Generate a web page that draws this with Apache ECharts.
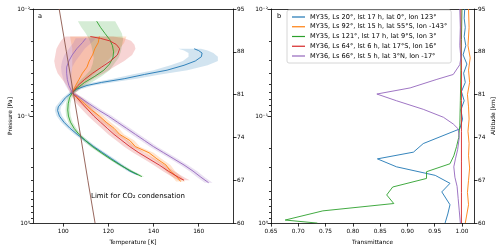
<!DOCTYPE html>
<html>
<head>
<meta charset="utf-8">
<script src="https://cdn.jsdelivr.net/npm/echarts@6/dist/echarts.min.js"></script>
<style>
  html, body { margin: 0; padding: 0; background: #fff; }
  #chart { width: 500px; height: 250px; }
</style>
</head>
<body>
<div id="chart"></div>
<script>
// legend names and colours (matplotlib tab10)
const names = [
  'MY35, Ls 20°, lst 17 h, lat 0°, lon 123°',
  'MY35, Ls 92°, lst 15 h, lat 55°S, lon -143°',
  'MY35, Ls 121°, lst 17 h, lat 9°S, lon 3°',
  'MY36, Ls 64°, lst 6 h, lat 17°S, lon 16°',
  'MY36, Ls 66°, lst 5 h, lat 3°N, lon -17°'
];
const colors = ['#1f77b4', '#ff7f0e', '#2ca02c', '#d62728', '#9467bd'];

// tick values
const tempTicks = [100, 120, 140, 160];
const trTicks = [0.65, 0.70, 0.75, 0.80, 0.85, 0.90, 0.95, 1.00];
const altTicks = [60, 67, 74, 81, 88, 95];
const pressureTicks = [0.01, 0.1, 1];
const pressureLabels = ['10⁻²', '10⁻¹', '10⁰'];
const pressureMinor = [0.02, 0.03, 0.04, 0.05, 0.06, 0.07, 0.08, 0.09,
  0.2, 0.3, 0.4, 0.5, 0.6, 0.7, 0.8, 0.9];

// panel a : temperature profiles (altitude km, temperature K, band low/high)
const blueAlt = [88.5, 88.2, 87.8, 87.2, 86.5, 85.8, 85.0, 84.3, 83.6, 83.0, 82.5, 81.9, 81.1, 80.5, 79.7, 79.0, 78.4, 77.5, 76.5, 75.5, 74.5, 73.5, 72.5, 71.5, 70.5, 69.5, 68.5, 67.9];
const blueT   = [158.0, 160.0, 161.5, 161.2, 158.5, 153.5, 146.0, 136.0, 127.0, 117.0, 110.5, 106.0, 103.0, 101.0, 99.3, 97.8, 97.5, 98.3, 100.3, 103.0, 106.2, 109.8, 113.5, 117.5, 121.5, 125.5, 129.5, 133.0];
const blueLo  = [151.0, 153.5, 155.5, 155.5, 153.0, 147.5, 140.0, 130.5, 122.0, 113.0, 107.8, 104.3, 101.8, 99.8, 98.1, 96.6, 96.3, 97.1, 99.1, 101.8, 105.0, 108.6, 112.3, 116.3, 120.3, 124.3, 128.3, 131.8];
const blueHi  = [161.0, 164.0, 166.5, 168.5, 168.5, 164.0, 155.0, 143.0, 132.5, 121.5, 113.3, 107.8, 104.2, 102.2, 100.5, 99.0, 98.7, 99.5, 101.5, 104.2, 107.4, 111.0, 114.7, 118.7, 122.7, 126.7, 130.7, 134.2];

const greenAlt = [93.0, 92.0, 91.0, 90.0, 89.0, 88.0, 87.0, 86.0, 85.0, 84.0, 83.0, 82.0, 81.3, 80.5, 79.5, 78.5, 77.5, 76.5, 75.5, 74.5, 73.5, 72.5, 71.5, 70.5, 69.5, 68.5, 67.6];
const greenT   = [114.8, 116.5, 118.5, 120.6, 121.8, 122.3, 122.0, 120.5, 118.0, 114.0, 109.5, 106.0, 104.0, 102.8, 102.2, 102.0, 102.3, 103.2, 104.8, 107.0, 109.8, 113.0, 116.8, 120.8, 125.2, 130.0, 134.8];
const greenLo  = [106.5, 108.0, 110.0, 111.5, 112.5, 113.0, 113.5, 113.0, 112.0, 109.5, 106.5, 104.5, 103.0, 101.8, 101.2, 101.0, 101.3, 102.2, 103.8, 106.0, 108.8, 112.0, 115.8, 119.8, 124.2, 129.0, 133.8];
const greenHi  = [123.0, 124.5, 126.0, 126.5, 126.0, 125.5, 124.5, 122.5, 120.5, 117.0, 112.5, 107.5, 105.0, 103.8, 103.2, 103.0, 103.3, 104.2, 105.8, 108.0, 110.8, 114.0, 117.8, 121.8, 126.2, 131.0, 135.8];

const orangeAlt = [90.5, 89.5, 88.5, 87.5, 86.5, 85.5, 84.5, 83.5, 82.5, 81.3, 80.5, 79.5, 78.5, 77.5, 76.5, 75.5, 74.5, 73.5, 72.5, 71.5, 70.5, 69.5, 68.5, 67.5, 66.8];
const orangeT   = [116.0, 115.5, 114.0, 113.0, 111.5, 110.5, 108.5, 107.0, 105.5, 104.0, 106.5, 109.5, 112.5, 116.0, 119.0, 122.5, 125.0, 129.5, 132.0, 138.0, 141.5, 145.5, 147.5, 150.5, 152.0];
const orangeLo  = [103.0, 103.5, 104.0, 104.0, 104.0, 104.0, 103.5, 103.5, 103.5, 103.0, 104.5, 107.5, 110.5, 114.0, 117.0, 120.5, 123.0, 127.5, 130.0, 136.0, 139.5, 143.5, 145.5, 148.5, 150.0];
const orangeHi  = [128.0, 127.0, 125.0, 122.0, 119.5, 117.0, 114.0, 111.0, 107.5, 105.0, 108.5, 111.5, 114.5, 118.0, 121.0, 124.5, 127.0, 131.5, 134.0, 140.0, 143.5, 147.5, 149.5, 152.5, 154.0];

const redAlt = [90.5, 90.2, 89.8, 89.2, 88.5, 87.5, 86.5, 85.5, 84.5, 83.5, 82.5, 81.3, 80.5, 79.5, 78.5, 77.5, 76.5, 75.5, 74.5, 73.5, 72.5, 71.5, 70.5, 69.5, 68.5, 67.5, 67.0];
const redT   = [112.0, 116.5, 120.5, 123.5, 125.0, 124.0, 121.0, 117.0, 113.0, 109.5, 106.5, 104.0, 106.0, 108.5, 111.0, 113.5, 116.5, 119.5, 122.5, 126.0, 129.5, 133.5, 138.0, 142.5, 146.5, 151.0, 153.5];
const redLo  = [101.0, 100.0, 99.0, 98.0, 97.0, 96.5, 96.0, 96.5, 97.5, 99.5, 101.5, 103.0, 104.0, 106.0, 108.5, 111.0, 114.0, 117.0, 120.0, 123.5, 127.0, 131.0, 135.5, 140.0, 144.0, 148.5, 151.0];
const redHi  = [122.0, 127.0, 130.0, 131.5, 132.0, 130.5, 127.0, 122.5, 118.0, 113.0, 109.0, 105.5, 108.0, 111.0, 113.5, 116.0, 119.0, 122.0, 125.0, 128.5, 132.0, 136.0, 140.5, 145.0, 149.0, 153.5, 156.0];

const purpleAlt = [90.2, 89.5, 88.5, 87.5, 86.5, 85.5, 84.5, 83.5, 82.5, 81.3, 80.5, 79.5, 78.5, 77.5, 76.5, 75.5, 74.5, 73.5, 72.5, 71.5, 70.5, 69.5, 68.5, 67.5, 66.6];
const purpleT   = [110.0, 108.5, 106.0, 104.0, 102.5, 101.5, 101.5, 101.8, 102.5, 104.0, 107.5, 111.5, 115.5, 120.0, 124.0, 128.0, 132.0, 136.0, 140.0, 144.5, 149.0, 153.5, 157.5, 161.0, 164.4];
const purpleLo  = [105.5, 104.5, 102.5, 100.5, 99.5, 99.0, 99.3, 100.0, 101.0, 103.0, 106.0, 110.0, 113.8, 118.3, 122.3, 126.3, 130.3, 134.3, 138.3, 142.8, 147.3, 151.8, 155.8, 159.3, 162.7];
const purpleHi  = [114.5, 112.5, 109.5, 107.5, 105.5, 104.0, 103.7, 103.6, 104.0, 105.0, 109.0, 113.0, 117.2, 121.7, 125.7, 129.7, 133.7, 137.7, 141.7, 146.2, 150.7, 155.2, 159.2, 162.7, 166.1];

// CO2 condensation limit (altitude km, temperature K)
const co2Alt = [95, 88, 81, 74, 67, 60];
const co2T   = [98.2, 101.4, 104.6, 107.8, 110.9, 114.1];

// panel b : transmittance profiles (altitude km, transmittance)
const trBlueAlt = [95, 93.5, 92, 90.5, 89, 87.5, 86, 84.5, 83, 81.5, 80, 78.5, 77, 75.4, 73, 71.6, 70.5, 69.2, 67.8, 66.5, 65.1, 63, 61.5, 60];
const trBlue    = [1.005, 1.004, 1.006, 1.004, 1.007, 1.002, 1.009, 1.003, 1.006, 0.999, 1.004, 0.998, 1.001, 0.996, 0.929, 0.911, 0.845, 0.880, 0.951, 0.978, 0.963, 0.978, 0.974, 0.969];
const trOrangeAlt = [95, 92, 89, 87, 85, 83, 81, 79, 77, 75, 73, 71, 69, 67, 65, 63, 61, 60];
const trOrange    = [1.012, 1.013, 1.011, 1.015, 1.012, 1.014, 1.010, 1.012, 1.013, 1.011, 1.013, 1.012, 1.014, 1.012, 1.010, 1.012, 1.008, 1.006];
const trGreenAlt = [95, 90, 85, 80, 76, 74, 72.5, 71, 69.7, 68.4, 67.3, 65.9, 64.6, 63.2, 62, 60.5, 60];
const trGreen    = [1.000, 0.999, 0.998, 0.997, 0.996, 0.994, 0.990, 0.985, 0.978, 0.935, 0.935, 0.873, 0.862, 0.875, 0.745, 0.676, 0.735];
const trRedAlt = [95, 90, 85, 80, 75, 70, 65, 60];
const trRed    = [0.998, 0.998, 0.999, 0.999, 0.999, 0.999, 0.999, 0.999];
const trPurpleAlt = [95, 92, 89, 87, 85.9, 84.3, 83.5, 82.1, 81.1, 80, 78.6, 77.3, 76.2, 75.4, 74, 72, 70.5, 69.2, 67.5, 66, 64, 62, 60];
const trPurple    = [0.996, 0.997, 0.996, 0.998, 0.996, 0.984, 0.954, 0.905, 0.844, 0.880, 0.929, 0.966, 0.984, 0.993, 0.995, 0.992, 0.988, 0.985, 0.987, 0.991, 0.993, 0.995, 0.997];

const font = 'DejaVu Sans';
const tickFont = 5.8;

function pairs(xs, alts) {
  return alts.map((a, i) => [xs[i], a]);
}

function rgba(hex, a) {
  const n = parseInt(hex.slice(1), 16);
  return 'rgba(' + (n >> 16) + ',' + ((n >> 8) & 255) + ',' + (n & 255) + ',' + a + ')';
}

function lineSeries(name, color, xs, alts, xi, yi) {
  return {
    type: 'line', name: name, xAxisIndex: xi, yAxisIndex: yi,
    data: pairs(xs, alts), symbol: 'none', z: 3,
    lineStyle: { width: 0.9, color: color }, itemStyle: { color: color }
  };
}

function bandSeries(color, alts, lo, hi) {
  return {
    type: 'custom', xAxisIndex: 0, yAxisIndex: 2, z: 1, silent: true,
    data: [[lo[0], alts[0]]],
    renderItem: function (params, api) {
      const pts = [];
      for (let i = 0; i < alts.length; i++) pts.push(api.coord([lo[i], alts[i]]));
      for (let i = alts.length - 1; i >= 0; i--) pts.push(api.coord([hi[i], alts[i]]));
      return { type: 'polygon', shape: { points: pts }, style: { fill: rgba(color, 0.2) } };
    }
  };
}

const lineCol = { lineStyle: { color: '#000', width: 0.8 } };
const tickCol = { lineStyle: { color: '#000', width: 0.8 } };
const labelStyle = { color: '#000', fontSize: tickFont, fontFamily: font };

function pLabel(v) {
  for (let i = 0; i < pressureTicks.length; i++) {
    if (Math.abs(v - pressureTicks[i]) < pressureTicks[i] * 1e-6) return pressureLabels[i];
  }
  return '';
}

function pressureAxes(gi, withName) {
  return [{
    gridIndex: gi, type: 'log', logBase: 10, min: 0.01, max: 1, inverse: true, position: 'left',
    axisLine: Object.assign({ onZero: false }, lineCol),
    axisTick: Object.assign({ length: 3.5, customValues: pressureTicks }, tickCol),
    axisLabel: Object.assign({ customValues: pressureTicks, formatter: pLabel, margin: 3 }, labelStyle),
    splitLine: { show: false },
    name: withName ? 'Pressure [Pa]' : '', nameLocation: 'middle', nameGap: 19, nameRotate: 90,
    nameTextStyle: { color: '#000', fontSize: tickFont, fontFamily: font }
  }, {
    gridIndex: gi, type: 'log', logBase: 10, min: 0.01, max: 1, inverse: true, position: 'left',
    axisLine: { show: false },
    axisTick: Object.assign({ length: 2, customValues: pressureMinor }, tickCol),
    axisLabel: { show: false }, splitLine: { show: false }
  }];
}

function altAxis(gi, withName) {
  return {
    gridIndex: gi, type: 'value', min: 60, max: 95, position: 'right',
    axisLine: Object.assign({ onZero: false }, lineCol),
    axisTick: Object.assign({ length: 3.5, customValues: altTicks }, tickCol),
    axisLabel: Object.assign({ customValues: altTicks, margin: 4 }, labelStyle),
    splitLine: { show: false },
    name: withName ? 'Altitude [km]' : '', nameLocation: 'middle', nameGap: 16, nameRotate: 90,
    nameTextStyle: { color: '#000', fontSize: tickFont, fontFamily: font }
  };
}

function topAxis(gi, min, max) {
  return {
    gridIndex: gi, type: 'value', min: min, max: max, position: 'top',
    axisLine: Object.assign({ onZero: false }, lineCol),
    axisTick: { show: false }, axisLabel: { show: false }, splitLine: { show: false }
  };
}

const myChart = echarts.init(document.getElementById('chart'), null, { renderer: 'canvas' });

const series = [
  bandSeries(colors[0], blueAlt, blueLo, blueHi),
  bandSeries(colors[1], orangeAlt, orangeLo, orangeHi),
  bandSeries(colors[2], greenAlt, greenLo, greenHi),
  bandSeries(colors[3], redAlt, redLo, redHi),
  bandSeries(colors[4], purpleAlt, purpleLo, purpleHi),
  lineSeries(names[0], colors[0], blueT, blueAlt, 0, 2),
  lineSeries(names[1], colors[1], orangeT, orangeAlt, 0, 2),
  lineSeries(names[2], colors[2], greenT, greenAlt, 0, 2),
  lineSeries(names[3], colors[3], redT, redAlt, 0, 2),
  lineSeries(names[4], colors[4], purpleT, purpleAlt, 0, 2),
  lineSeries('co2', '#8c564b', co2T, co2Alt, 0, 2),
  lineSeries(names[0], colors[0], trBlue, trBlueAlt, 2, 5),
  lineSeries(names[1], colors[1], trOrange, trOrangeAlt, 2, 5),
  lineSeries(names[2], colors[2], trGreen, trGreenAlt, 2, 5),
  lineSeries(names[3], colors[3], trRed, trRedAlt, 2, 5),
  lineSeries(names[4], colors[4], trPurple, trPurpleAlt, 2, 5)
];

myChart.setOption({
  animation: false,
  backgroundColor: '#fff',
  grid: [
    { left: 33, top: 9, width: 200, height: 216 },
    { left: 271, top: 9, width: 203, height: 216 }
  ],
  xAxis: [
    {
      gridIndex: 0, type: 'value', min: 86.6, max: 175.2, position: 'bottom',
      axisLine: Object.assign({ onZero: false }, lineCol),
      axisTick: Object.assign({ length: 3.5, customValues: tempTicks }, tickCol),
      axisLabel: Object.assign({ customValues: tempTicks, margin: 5 }, labelStyle),
      splitLine: { show: false },
      name: 'Temperature [K]', nameLocation: 'middle', nameGap: 12,
      nameTextStyle: { color: '#000', fontSize: tickFont, fontFamily: font }
    },
    topAxis(0, 86.6, 175.2),
    {
      gridIndex: 1, type: 'value', min: 0.65, max: 1.022, position: 'bottom',
      axisLine: Object.assign({ onZero: false }, lineCol),
      axisTick: Object.assign({ length: 3.5, customValues: trTicks }, tickCol),
      axisLabel: Object.assign({ customValues: trTicks, margin: 5,
        formatter: function (v) { return v.toFixed(2); } }, labelStyle),
      splitLine: { show: false },
      name: 'Transmittance', nameLocation: 'middle', nameGap: 12,
      nameTextStyle: { color: '#000', fontSize: tickFont, fontFamily: font }
    },
    topAxis(1, 0.65, 1.022)
  ],
  yAxis: [].concat(
    pressureAxes(0, true), [altAxis(0, false)],
    pressureAxes(1, false), [altAxis(1, true)]
  ),
  legend: {
    data: names, orient: 'vertical', left: 287, top: 10,
    icon: 'rect', itemWidth: 13, itemHeight: 1.2, itemGap: 1.75,
    padding: [3, 4, 3, 5], selectedMode: false,
    backgroundColor: '#fff', borderColor: '#cccccc', borderWidth: 0.8, borderRadius: 2,
    textStyle: { color: '#000', fontSize: 6.6, fontFamily: font, lineHeight: 8 }
  },
  graphic: [
    { type: 'text', left: 38, top: 13, style: { text: 'a', fontSize: 6.6, fontFamily: font, fill: '#000' } },
    { type: 'text', left: 277, top: 13, style: { text: 'b', fontSize: 6.6, fontFamily: font, fill: '#000' } },
    { type: 'text', left: 91, top: 193, style: { text: 'Limit for CO₂ condensation', fontSize: 7, fontFamily: font, fill: '#000' } }
  ],
  series: series
});

window.addEventListener('resize', function () {
  myChart.resize();
});
</script>
</body>
</html>
